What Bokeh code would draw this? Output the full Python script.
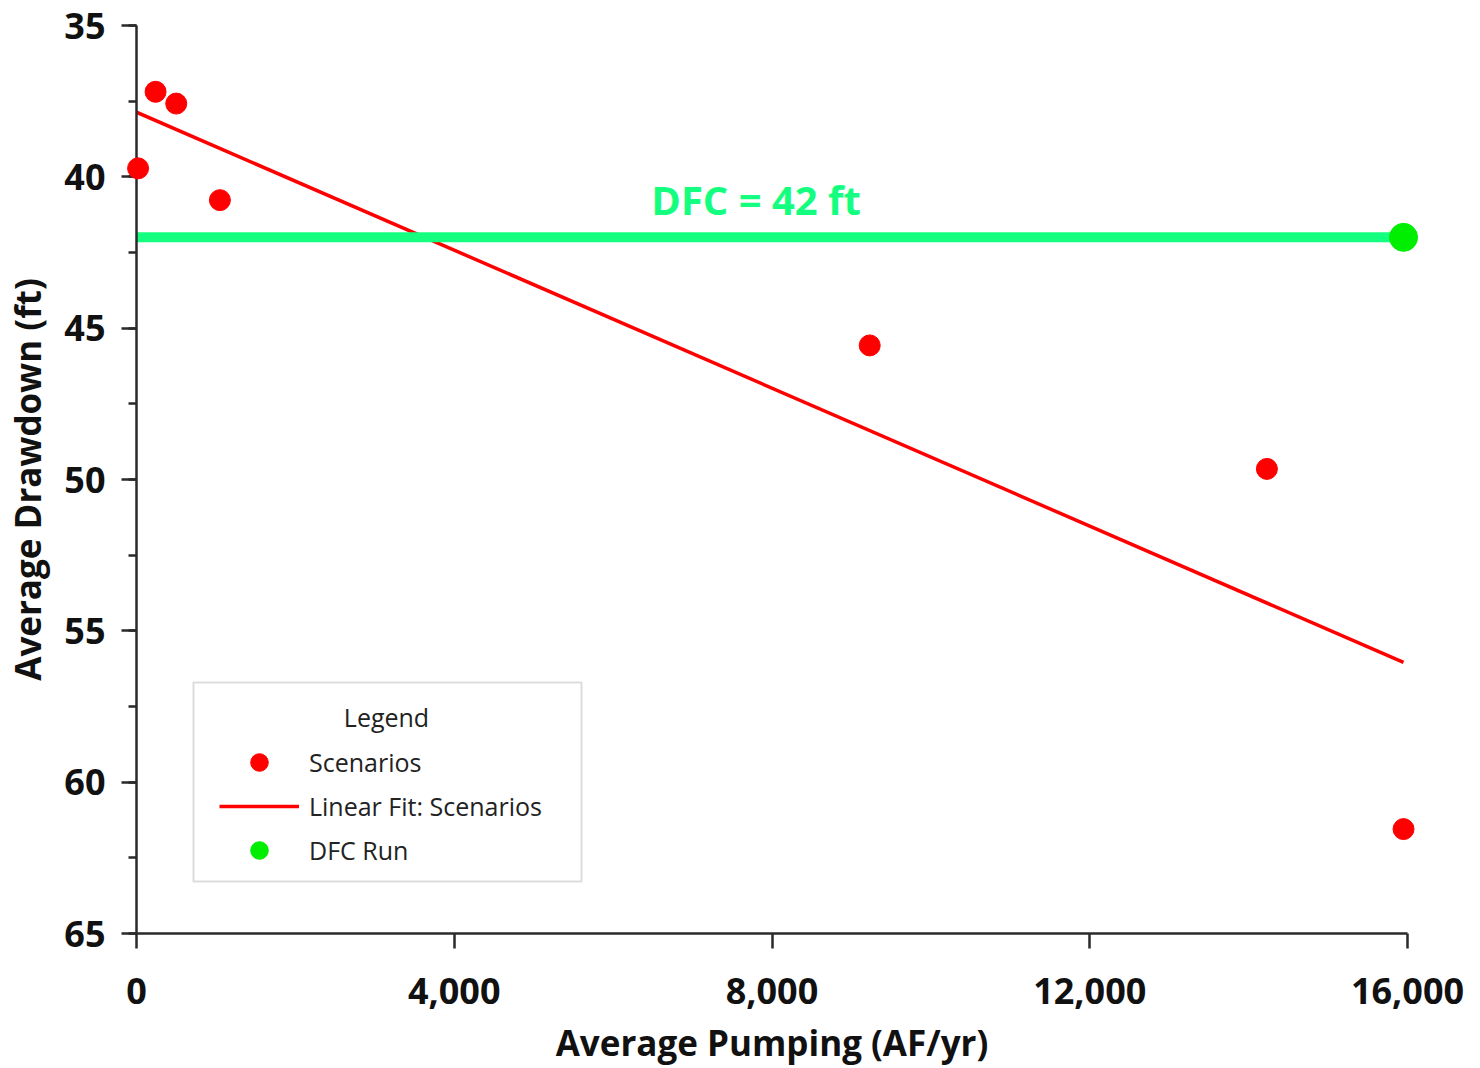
import numpy as np
from bokeh.plotting import figure
from bokeh.models import (Range1d, SingleIntervalTicker, FixedTicker, NumeralTickFormatter,
                          Legend, LegendItem, Label, BoxAnnotation)
from bokeh.embed import file_html
from bokeh.resources import INLINE

# Scenario runs: average pumping (AF/yr) vs. average drawdown (ft)
pumping = [20, 240, 500, 1050, 9230, 14230, 15950]
drawdown = [39.72, 37.19, 37.58, 40.77, 45.57, 49.65, 61.55]

# Desired future condition run
dfc_pumping = [15950]
dfc_drawdown = [42]
dfc_level = 42
dfc_text = "DFC = 42 ft"

x_ticks = [0, 4000, 8000, 12000, 16000]
x_limits = (0, 16000)
y_limits = (35, 65)

legend_labels = ["Scenarios", "Linear Fit: Scenarios", "DFC Run"]
legend_title = "Legend"

FONT = "Open Sans"
RED = "#ff0000"
GREEN_LINE = "#14ff80"
GREEN_DOT = "#00ee00"
AXIS = "#2a2a2a"
TEXT = "#111111"

p = figure(width=1480, height=1068, output_backend="svg", toolbar_location=None,
           x_range=Range1d(*x_limits), y_range=Range1d(y_limits[1], y_limits[0]),
           min_border_left=136, min_border_right=73, min_border_top=25, min_border_bottom=133,
           background_fill_color="white", border_fill_color="white")
p.outline_line_color = None
p.grid.visible = False

# x axis
xa = p.xaxis[0]
xa.ticker = FixedTicker(ticks=x_ticks)
xa.formatter = NumeralTickFormatter(format="0,0")
xa.axis_label = "Average Pumping (AF/yr)"
xa.minor_tick_out = 0
xa.minor_tick_in = 0
xa.minor_tick_line_color = None

# y axis (drawdown increases downward)
ya = p.yaxis[0]
ya.ticker = SingleIntervalTicker(interval=5, num_minor_ticks=2)
ya.axis_label = "Average Drawdown (ft)"
ya.minor_tick_out = 8
ya.minor_tick_in = 0
ya.minor_tick_line_color = AXIS
ya.minor_tick_line_width = 2.5

for ax in (xa, ya):
    ax.axis_line_color = AXIS
    ax.axis_line_width = 2.5
    ax.major_tick_line_color = AXIS
    ax.major_tick_line_width = 2.5
    ax.major_tick_out = 15
    ax.major_tick_in = 0
    ax.major_label_text_font = FONT
    ax.major_label_text_font_style = "bold"
    ax.major_label_text_font_size = "36px"
    ax.major_label_text_color = TEXT
    ax.axis_label_text_font = FONT
    ax.axis_label_text_font_style = "bold"
    ax.axis_label_text_font_size = "35px"
    ax.axis_label_text_color = TEXT

xa.major_label_standoff = 29
xa.axis_label_standoff = 12
ya.major_label_standoff = 16
ya.axis_label_standoff = 10

# least-squares line through the scenario runs
slope, intercept = np.polyfit(pumping, drawdown, 1)
fit_x = np.array([x_limits[0], max(pumping)])
fit_y = intercept + slope * fit_x
r_fit = p.line(fit_x, fit_y, line_color=RED, line_width=3.5)

# DFC level line
p.line([x_limits[0], dfc_pumping[0]], [dfc_level, dfc_level],
       line_color=GREEN_LINE, line_width=10)

r_sc = p.scatter(pumping, drawdown, size=21, fill_color=RED, line_color=RED, level="overlay")
r_dfc = p.scatter(dfc_pumping, dfc_drawdown, size=28, fill_color=GREEN_DOT,
                  line_color=GREEN_DOT, level="overlay")

p.add_layout(Label(x=7800, y=dfc_level, y_offset=38, text=dfc_text,
                   text_align="center", text_baseline="middle",
                   text_font=FONT, text_font_style="bold", text_font_size="40px",
                   text_color=GREEN_LINE))

# legend frame and centred heading (offsets in pixels from the frame's bottom-left)
p.add_layout(BoxAnnotation(left=57, right=445, bottom=52, top=251,
                           left_units="screen", right_units="screen",
                           bottom_units="screen", top_units="screen",
                           fill_color="white", fill_alpha=1.0,
                           line_color="#8a8a8a", line_width=2))
p.add_layout(Label(x=250, y=217, x_units="screen", y_units="screen", text=legend_title,
                   text_align="center", text_baseline="middle",
                   text_font=FONT, text_font_size="25px", text_color="#222222"))

legend = Legend(
    items=[LegendItem(label=legend_labels[0], renderers=[r_sc]),
           LegendItem(label=legend_labels[1], renderers=[r_fit]),
           LegendItem(label=legend_labels[2], renderers=[r_dfc])],
    location=(83, 61), margin=0, padding=11,
    label_text_font=FONT, label_text_font_size="25px", label_text_color="#222222",
    glyph_width=80, glyph_height=44, label_height=44,
    label_standoff=10, spacing=0,
    border_line_color=None, background_fill_alpha=0.0,
)
p.add_layout(legend)

open("out.html", "w").write(file_html(p, INLINE))
